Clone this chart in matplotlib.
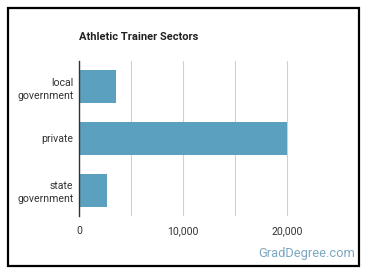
import matplotlib
matplotlib.use("Agg")
import matplotlib.pyplot as plt
from matplotlib.ticker import FuncFormatter

plt.rcParams["font.family"] = ["Roboto", "DejaVu Sans"]

sectors = ["local\ngovernment", "private", "state\ngovernment"]
workers = [3560, 19960, 2720]
ticks = [0, 10000, 20000]

fig = plt.figure(figsize=(3.7, 2.78), dpi=100)

# black frame around the card
frame = plt.Rectangle((8 / 370, 12 / 278), 351 / 370, 258 / 278, transform=fig.transFigure,
                      fill=False, edgecolor="black", linewidth=1.6)
fig.patches.append(frame)

ax = fig.add_axes([79 / 370, 62 / 278, 261 / 370, 155 / 278])
ax.barh(range(len(sectors)), workers, height=0.64, color="#5ba1bf")
ax.set_ylim(2.5, -0.5)
ax.set_xlim(0, 25100)
ax.set_yticks(range(len(sectors)))
ax.set_yticklabels(sectors, fontsize=7.6, color="#333333", linespacing=1.4)
ax.set_xticks(ticks)
ax.xaxis.set_major_formatter(FuncFormatter(lambda v, p: f"{int(v):,}"))
ax.set_xticks([5000, 15000], minor=True)
ax.tick_params(axis="x", which="both", length=0, labelsize=7.6, labelcolor="#333333", pad=7)
ax.tick_params(axis="y", length=0, pad=4)
ax.grid(axis="x", which="both", color="#d0d0d0", linewidth=0.8)
ax.set_axisbelow(True)
for s in ["top", "right", "bottom"]:
    ax.spines[s].set_visible(False)
ax.spines["left"].set_color("#333333")
ax.spines["left"].set_linewidth(1)

fig.text(79 / 370, 1 - 37 / 278, "Athletic Trainer Sectors", fontsize=8.0,
         fontweight="bold", color="#222222", va="center", ha="left")
fig.text(355 / 370, 1 - 254 / 278, "GradDegree.com", fontsize=9.3,
         color="#7aa7c0", va="center", ha="right")

fig.savefig("out.png", dpi=100, facecolor="white")
